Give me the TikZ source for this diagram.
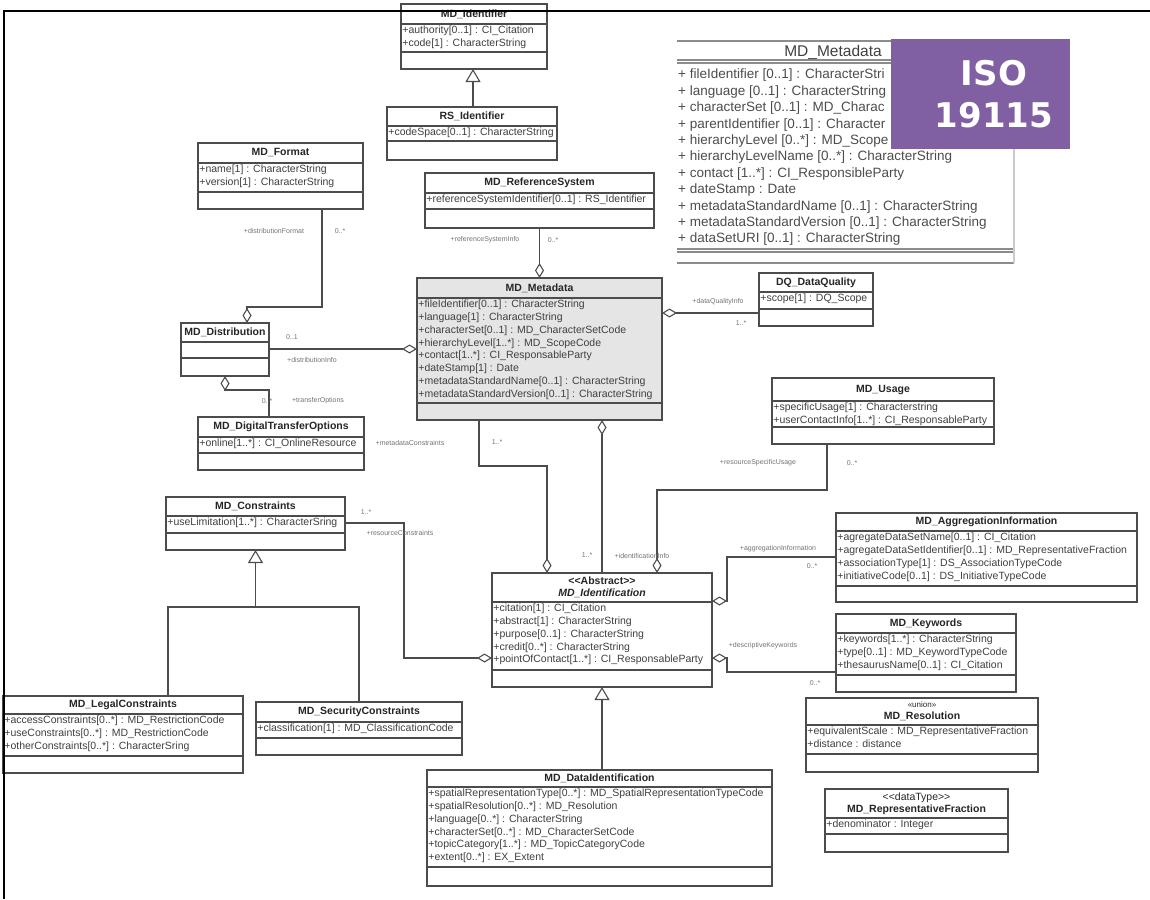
\documentclass[tikz,border=0pt]{standalone}
\usepackage{fontspec}
\setmainfont{Liberation Sans}
\newfontfamily\isofont{DejaVu Sans}
\usepackage{tikz}
\usetikzlibrary{positioning,arrows.meta}

\definecolor{isopurple}{RGB}{128,96,162}
\newcommand{\attrskip}{12.8}
% #1 box options, #2 name, #3 top left, #4 width, #5/#6/#7 compartment heights, #8 title, #9 attributes
\newcommand{\umlclass}[9][]{%
  \node[classbox, #1, minimum width=#4pt, minimum height=#5pt+#6pt+#7pt, anchor=north west] (#2) at (#3) {};
  \draw[classline] ([yshift=-#5pt]#2.north west) -- ([yshift=-#5pt]#2.north east);
  \draw[classline] ([yshift=-#5pt-#6pt]#2.north west) -- ([yshift=-#5pt-#6pt]#2.north east);
  \node[classtitle] (#2-title) at ([yshift=-#5pt/2]#2.north) {#8};
  \node[classattr, anchor=north west] (#2-attr) at ([yshift=-#5pt]#2.north west) {#9};
}

\begin{document}
\begin{tikzpicture}[x=1pt, y=-1pt,
  classbox/.style={draw=black!70, line width=1.1pt, fill=white, inner sep=0pt, outer sep=0pt},
  classline/.style={draw=black!70, line width=1.1pt},
  classtitle/.style={font=\fontsize{10.5}{12}\selectfont\bfseries, text=black!85, inner sep=0pt, align=center},
  classattr/.style={font=\fontsize{10.5}{\attrskip}\selectfont, text=black!75, inner xsep=1.2pt, inner ysep=1.8pt, align=left},
  conn/.style={draw=black!70, line width=1.1pt},
  agg/.style={conn, -{Diamond[open, length=15pt, width=9pt]}},
  gen/.style={conn, -{Triangle[open, length=13pt, width=15pt]}},
  rolelabel/.style={font=\fontsize{7}{8}\selectfont, text=black!55, inner sep=0pt},
  insetline/.style={draw=black!45, line width=1.2pt},
  insettext/.style={font=\fontsize{13.5}{16.4}\selectfont, text=black!70, inner sep=0pt, align=left},
  isobox/.style={fill=isopurple, inner sep=0pt, minimum width=179pt, minimum height=110pt},
  isotext/.style={text=white, inner sep=0pt, align=center, font=\isofont\fontsize{34}{42}\selectfont\bfseries},
  frameline/.style={draw=black, line width=2.4pt}]
\useasboundingbox (0,0) rectangle (1150,899);

% ISO 19115 table excerpt
\draw[insetline] (677,41) -- (1014,41);
\node[font=\fontsize{15.5}{18}\selectfont, text=black!75, inner sep=0pt] (isotitle) at (833,52) {MD\_Metadata};
\draw[insetline] (677,60) -- (1014,60) (677,63) -- (1014,63);
\node[insettext, anchor=north west] (isoattr) at (678,69) {+ fileIdentifier [0..1] : CharacterStri\\
  + language [0..1] : CharacterString\\
  + characterSet [0..1] : MD\_Charac\\
  + parentIdentifier [0..1] : Character\\
  + hierarchyLevel [0..*] : MD\_Scope};
\node[insettext, anchor=north west] (isoattr2) at (678,151) {+ hierarchyLevelName [0..*] : CharacterString\\
  + contact [1..*] : CI\_ResponsibleParty\\
  + dateStamp : Date\\
  + metadataStandardName [0..1] : CharacterString\\
  + metadataStandardVersion [0..1] : CharacterString\\
  + dataSetURI [0..1] : CharacterString};
\draw[insetline] (677,249) -- (1014,249) (677,252) -- (1014,252) (677,263) -- (1014,263);
\draw[insetline, draw=black!20] (1014,41) -- (1014,263);
\node[isobox] (iso) at (980,94) {};
\node[isotext] (isolabel) at ([xshift=14pt]iso.center) {ISO\\19115};

% classes
\umlclass{mdid}{401,4}{146}{20}{28}{17}{MD\_Identifier}{+authority[0..1] : CI\_Citation\\+code[1] : CharacterString}
\umlclass{rsid}{387,107}{170}{19}{15}{19}{RS\_Identifier}{+codeSpace[0..1] : CharacterString}
\umlclass{fmt}{198,143}{165}{20}{29}{17}{MD\_Format}{+name[1] : CharacterString\\+version[1] : CharacterString}
\umlclass{refsys}{425,173}{229}{20}{16}{19}{MD\_ReferenceSystem}{+referenceSystemIdentifier[0..1] : RS\_Identifier}
\umlclass[fill=black!10]{meta}{417,278}{245}{20}{105}{17}{MD\_Metadata}{+fileIdentifier[0..1] : CharacterString\\
  +language[1] : CharacterString\\
  +characterSet[0..1] : MD\_CharacterSetCode\\
  +hierarchyLevel[1..*] : MD\_ScopeCode\\
  +contact[1..*] : CI\_ResponsableParty\\
  +dateStamp[1] : Date\\
  +metadataStandardName[0..1] : CharacterString\\
  +metadataStandardVersion[0..1] : CharacterString}
\umlclass{distr}{181,323}{88}{19}{16}{18}{MD\_Distribution}{}
\umlclass{dto}{198,417}{166}{20}{16}{17}{MD\_DigitalTransferOptions}{+online[1..*] : CI\_OnlineResource}
\umlclass{dq}{759,273}{114}{19}{17}{17}{DQ\_DataQuality}{+scope[1] : DQ\_Scope}
\umlclass{usage}{772,378}{222}{23}{26}{17}{MD\_Usage}{+specificUsage[1] : Characterstring\\+userContactInfo[1..*] : CI\_ResponsableParty}
\umlclass{cons}{166,497}{179}{19}{17}{17}{MD\_Constraints}{+useLimitation[1..*] : CharacterSring}
\umlclass{legal}{3,696}{240}{18}{42}{17}{MD\_LegalConstraints}{+accessConstraints[0..*] : MD\_RestrictionCode\\
  +useConstraints[0..*] : MD\_RestrictionCode\\
  +otherConstraints[0..*] : CharacterSring}
\umlclass{sec}{256,702}{206}{20}{16}{17}{MD\_SecurityConstraints}{+classification[1] : MD\_ClassificationCode}
\umlclass{ident}{492,573}{220}{29}{68}{17}{{<}{<}Abstract{>}{>}\\\textit{MD\_Identification}}{+citation[1] : CI\_Citation\\
  +abstract[1] : CharacterString\\
  +purpose[0..1] : CharacterString\\
  +credit[0..*] : CharacterString\\
  +pointOfContact[1..*] : CI\_ResponsableParty}
\umlclass{dataid}{427,770}{345}{17}{80}{19}{MD\_DataIdentification}{+spatialRepresentationType[0..*] : MD\_SpatialRepresentationTypeCode\\
  +spatialResolution[0..*] : MD\_Resolution\\
  +language[0..*] : CharacterString\\
  +characterSet[0..*] : MD\_CharacterSetCode\\
  +topicCategory[1..*] : MD\_TopicCategoryCode\\
  +extent[0..*] : EX\_Extent}
\umlclass{aggr}{836,513}{301}{18}{55}{16}{MD\_AggregationInformation}{+agregateDataSetName[0..1] : CI\_Citation\\
  +agregateDataSetIdentifier[0..1] : MD\_RepresentativeFraction\\
  +associationType[1] : DS\_AssociationTypeCode\\
  +initiativeCode[0..1] : DS\_InitiativeTypeCode}
\umlclass{kw}{836,614}{180}{19}{42}{17}{MD\_Keywords}{+keywords[1..*] : CharacterString\\
  +type[0..1] : MD\_KeywordTypeCode\\
  +thesaurusName[0..1] : CI\_Citation}
\umlclass{resol}{806,698}{232}{27}{29}{18}{{\mdseries\fontsize{8}{9}\selectfont «union»}\\MD\_Resolution}{+equivalentScale : MD\_RepresentativeFraction\\
  +distance : distance}
\umlclass{repfrac}{825,789}{183}{29}{16}{18}{{\mdseries {<}{<}dataType{>}{>}}\\MD\_RepresentativeFraction}{+denominator : Integer}

% generalizations
\draw[gen] (rsid.north -| 473,0) -- (mdid.south -| 473,0);
\coordinate (cjoin) at (cons.south |- 0,607);
\draw[conn] (legal.north -| 168,0) |- (cjoin) -| (sec.north -| 359,0);
\draw[gen] (cjoin) -- (cons.south);
\draw[gen] (dataid.north -| ident.south) -- (ident.south);

% aggregations
\draw[agg] (refsys.south) -- (refsys.south |- meta.north);
\draw[agg] (fmt.south -| 322,0) |- (247,307) -- (distr.north -| 247,0);
\draw[agg] (distr.east |- 0,349) -- (meta.west |- 0,349);
\draw[agg] (dto.north -| 269,0) |- (225,390) -- (distr.south -| 225,0);
\draw[agg] (dq.west |- 0,313) -- (meta.east |- 0,313);
\draw[agg] (meta.south -| 479,0) -- (479,466) -| (ident.north -| 547,0);
\draw[agg] (ident.north -| 602,0) -- (meta.south -| 602,0);
\draw[agg] (usage.south -| 827,0) -- (827,490) -| (ident.north -| 657,0);
\draw[agg] (cons.east |- 0,523) -| (404,658) -- (ident.west |- 0,658);
\draw[agg] (aggr.west |- 0,557) -| (727,601) -- (ident.east |- 0,601);
\draw[agg] (kw.west |- 0,672) -| (727,658) -- (ident.east |- 0,658);

% role names and multiplicities
\node[rolelabel] (l-fmt) at (274,231) {+distributionFormat};
\node[rolelabel] (m-fmt) at (340,231) {0..*};
\node[rolelabel] (l-ref) at (485,240) {+referenceSystemInfo};
\node[rolelabel] (m-ref) at (553,240) {0..*};
\node[rolelabel] (m-dis) at (292,337) {0..1};
\node[rolelabel] (l-dis) at (312,360) {+distributionInfo};
\node[rolelabel] (m-dto) at (267,401) {0..*};
\node[rolelabel] (l-dto) at (318,401) {+transferOptions};
\node[rolelabel] (l-dq) at (718,302) {+dataQualityInfo};
\node[rolelabel] (m-dq) at (741,323) {1..*};
\node[rolelabel] (l-mc) at (410,443) {+metadataConstraints};
\node[rolelabel] (m-mc) at (497,442) {1..*};
\node[rolelabel] (l-use) at (758,463) {+resourceSpecificUsage};
\node[rolelabel] (m-use) at (852,463) {0..*};
\node[rolelabel] (m-rc) at (366,512) {1..*};
\node[rolelabel] (l-rc) at (400,533) {+resourceConstraints};
\node[rolelabel] (m-id) at (587,555) {1..*};
\node[rolelabel] (l-id) at (642,556) {+identificationInfo};
\node[rolelabel] (l-agg) at (778,549) {+aggregationInformation};
\node[rolelabel] (m-agg) at (812,566) {0..*};
\node[rolelabel] (l-kw) at (763,646) {+descriptiveKeywords};
\node[rolelabel] (m-kw) at (815,683) {0..*};

% slide frame
\draw[frameline] (4,899) -- (4,11) -- (1150,11);
\end{tikzpicture}
\end{document}
